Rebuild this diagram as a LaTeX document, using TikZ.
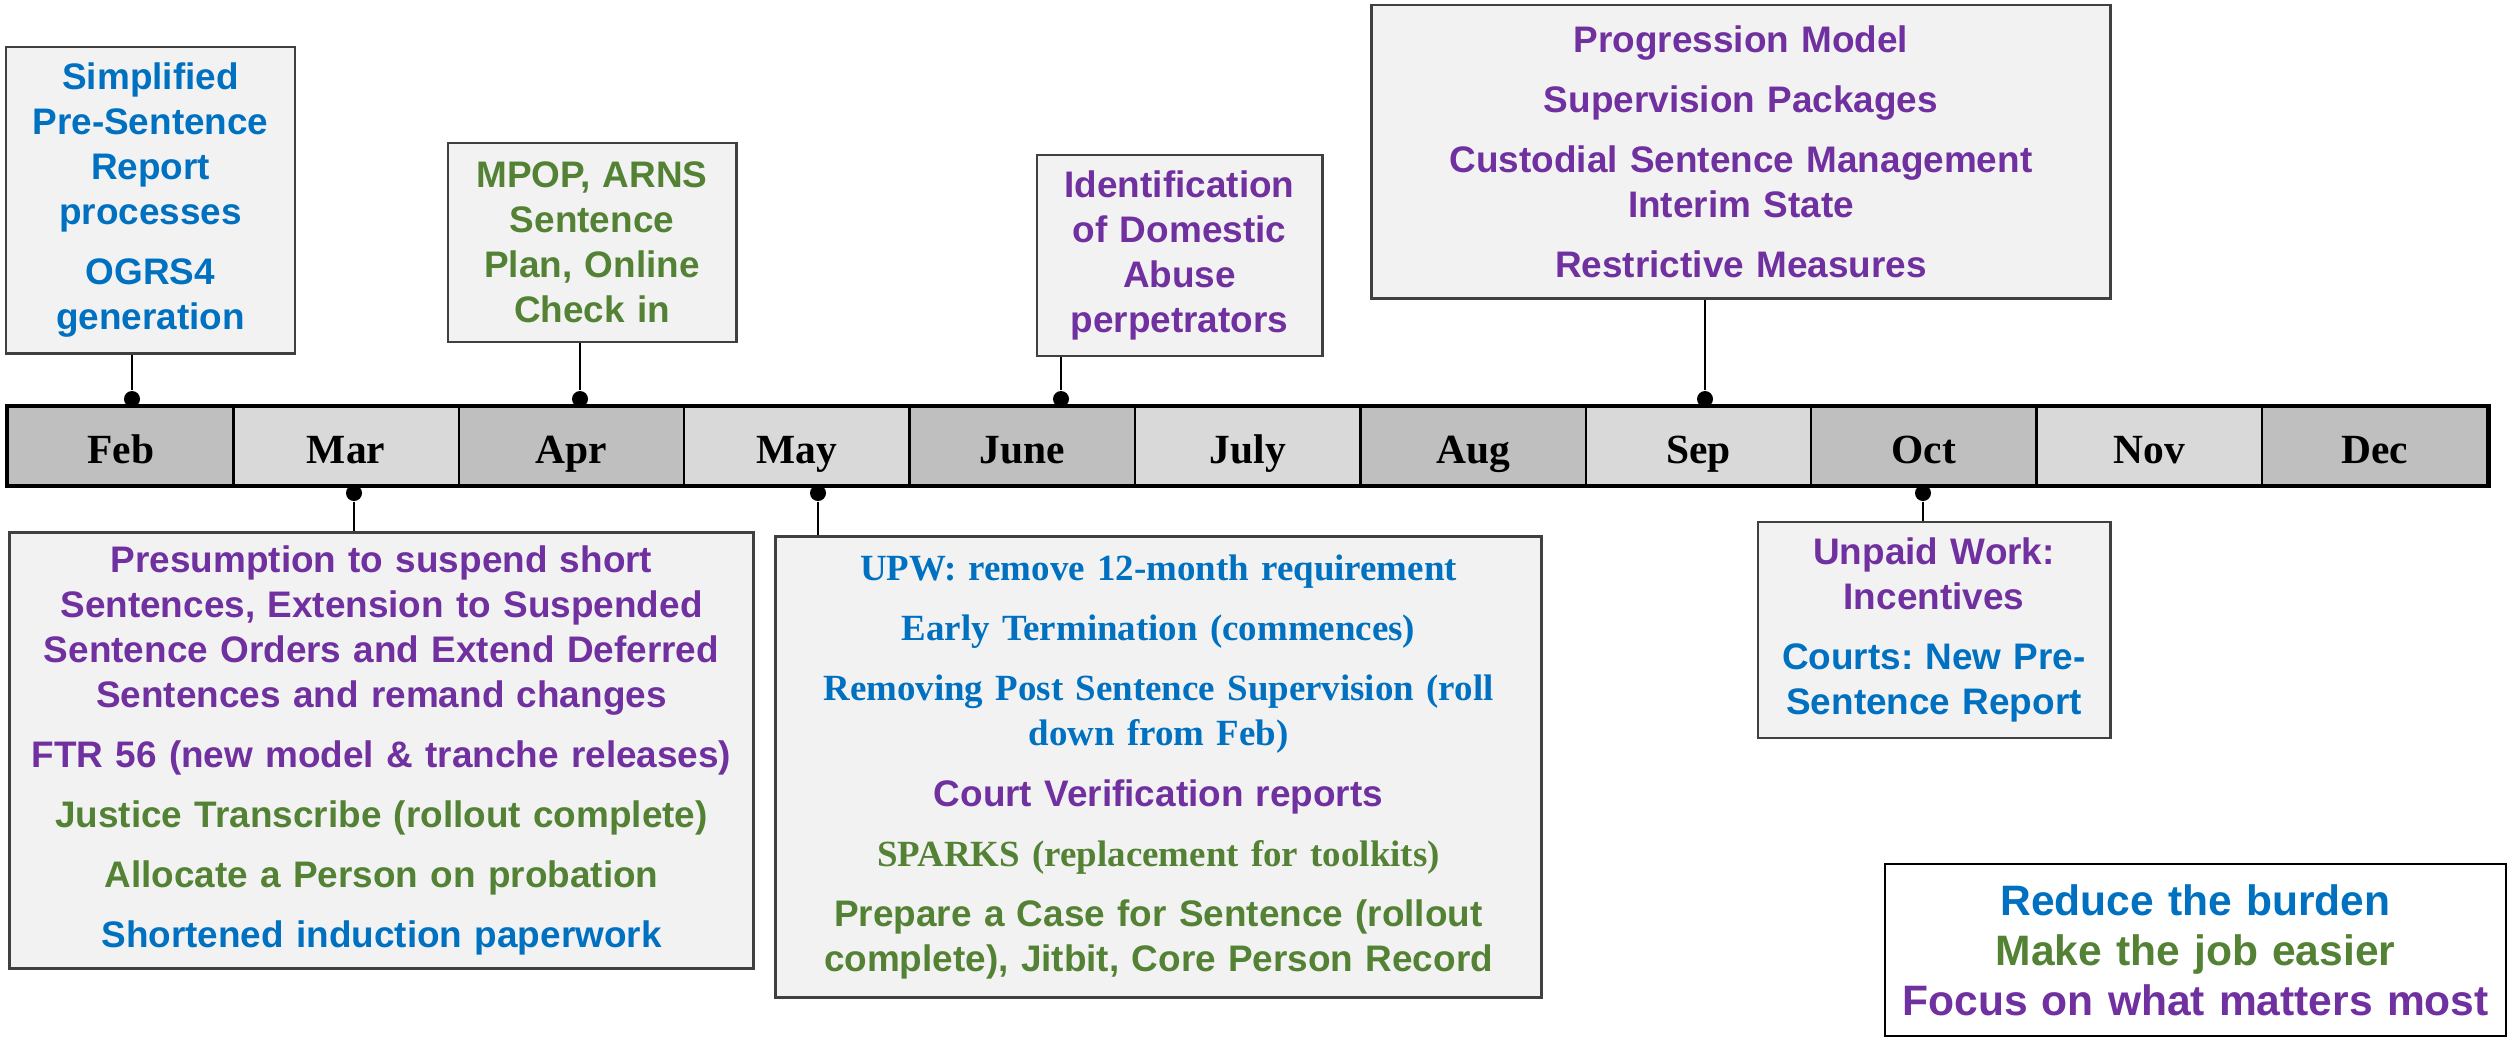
\documentclass[tikz,border=0pt]{standalone}
\usepackage{fontspec}
\setmainfont{Liberation Serif}
\setsansfont{Liberation Sans}
\frenchspacing
\definecolor{burden}{HTML}{0070C0}
\definecolor{easier}{HTML}{548235}
\definecolor{matters}{HTML}{7030A0}
\definecolor{boxfill}{HTML}{F2F2F2}
\definecolor{boxline}{HTML}{404040}
\definecolor{monthdark}{HTML}{BFBFBF}
\definecolor{monthlight}{HTML}{D9D9D9}
\newcommand{\rb}{\color{burden}}
\newcommand{\je}{\color{easier}}
\newcommand{\wm}{\color{matters}}
\newcommand{\gap}{\\[4.3pt]}
\tikzset{
  evbox/.style={draw=boxline, fill=boxfill, line width=0.8pt, align=center, inner sep=0pt,
    font=\sffamily\bfseries\fontsize{10.5}{12.8}\selectfont},
  month/.style={draw=black, line width=0.7pt, inner sep=0pt, minimum width=2.254cm,
    minimum height=0.78cm, text height=11pt, text depth=1.3pt,
    font=\rmfamily\bfseries\fontsize{11.8}{14}\selectfont},
  dot/.style={circle, fill=black, inner sep=0pt, minimum size=0.16cm},
  conn/.style={line width=0.6pt},
  legend/.style={draw=black, fill=white, line width=0.6pt, align=center, inner sep=0pt,
    font=\sffamily\bfseries\fontsize{12.1}{14.2}\selectfont}
}
\begin{document}
\begin{tikzpicture}[x=0.01cm,y=-0.01cm]
\useasboundingbox (0,0) rectangle (2509,1038);
% months
\foreach \mon [count=\i] in {Feb,Mar,Apr,May,June,July,Aug,Sep,Oct,Nov,Dec}{
  \pgfmathsetmacro\cx{8+225.4*(\i-0.5)}
  \ifodd\i \def\shade{monthdark}\else \def\shade{monthlight}\fi
  \node[month, fill=\shade] (m\i) at (\cx,446) {\mon};
}
\draw[line width=1.1pt] (m1.north west) rectangle (m11.south east);
% boxes above the line
\node[evbox, minimum width=2.89cm, minimum height=3.06cm, text width=2.8cm] (simp) at (150.5,200)
  {\rb Simplified\\Pre-Sentence\\Report\\processes\gap OGRS4\\generation};
\node[evbox, minimum width=2.88cm, minimum height=1.99cm, text width=2.8cm] (mpop) at (592,242.5)
  {\je MPOP, ARNS\\Sentence\\Plan, Online\\Check in};
\node[evbox, minimum width=2.85cm, minimum height=2.01cm, text width=2.8cm] (ident) at (1179.5,255.5)
  {\wm Identification\\of Domestic\\Abuse\\perpetrators};
\node[evbox, minimum width=7.38cm, minimum height=2.93cm, text width=7.2cm] (prog) at (1741,151.5)
  {\wm Progression Model\gap Supervision Packages\gap Custodial Sentence Management\\Interim State\gap Restrictive Measures};
% boxes below the line
\node[evbox, minimum width=7.43cm, minimum height=4.35cm, text width=7.3cm] (pres) at (381.5,750.5)
  {\wm Presumption to suspend short\\Sentences, Extension to Suspended\\Sentence Orders and Extend Deferred\\Sentences and remand changes\gap
   FTR 56 (new model \& tranche releases)\gap
   \je Justice Transcribe (rollout complete)\gap
   Allocate a Person on probation\gap
   \rb Shortened induction paperwork};
\node[evbox, minimum width=7.65cm, minimum height=4.6cm, text width=7.5cm] (upw) at (1158.5,767)
  {\rb\rmfamily UPW: remove 12-month requirement\gap
   Early Termination (commences)\gap
   Removing Post Sentence Supervision (roll\\down from Feb)\gap
   \wm\sffamily Court Verification reports\gap
   \je\rmfamily SPARKS (replacement for toolkits)\gap
   \sffamily Prepare a Case for Sentence (rollout\\complete), Jitbit, Core Person Record};
\node[evbox, minimum width=3.52cm, minimum height=2.16cm, text width=3.4cm] (unpaid) at (1934,630)
  {\wm Unpaid Work:\\Incentives\gap \rb Courts: New Pre-\\Sentence Report};
% legend
\node[legend, minimum width=6.21cm, minimum height=1.72cm, text width=6.1cm] (key) at (2195.5,950)
  {\rb Reduce the burden\\\je Make the job easier\\\wm Focus on what matters most};
% dots and connectors
\node[dot] (dfeb) at (132,399) {};
\node[dot] (dapr) at (580,399) {};
\node[dot] (djun) at (1061,399) {};
\node[dot] (dsep) at (1705,399) {};
\node[dot] (dmar) at (354,493) {};
\node[dot] (dmay) at (818,493) {};
\node[dot] (doct) at (1923,493) {};
\draw[conn] (dfeb) -- (dfeb |- simp.south);
\draw[conn] (dapr) -- (dapr |- mpop.south);
\draw[conn] (djun) -- (djun |- ident.south);
\draw[conn] (dsep) -- (dsep |- prog.south);
\draw[conn] (dmar) -- (dmar |- pres.north);
\draw[conn] (dmay) -- (dmay |- upw.north);
\draw[conn] (doct) -- (doct |- unpaid.north);
\end{tikzpicture}
\end{document}
